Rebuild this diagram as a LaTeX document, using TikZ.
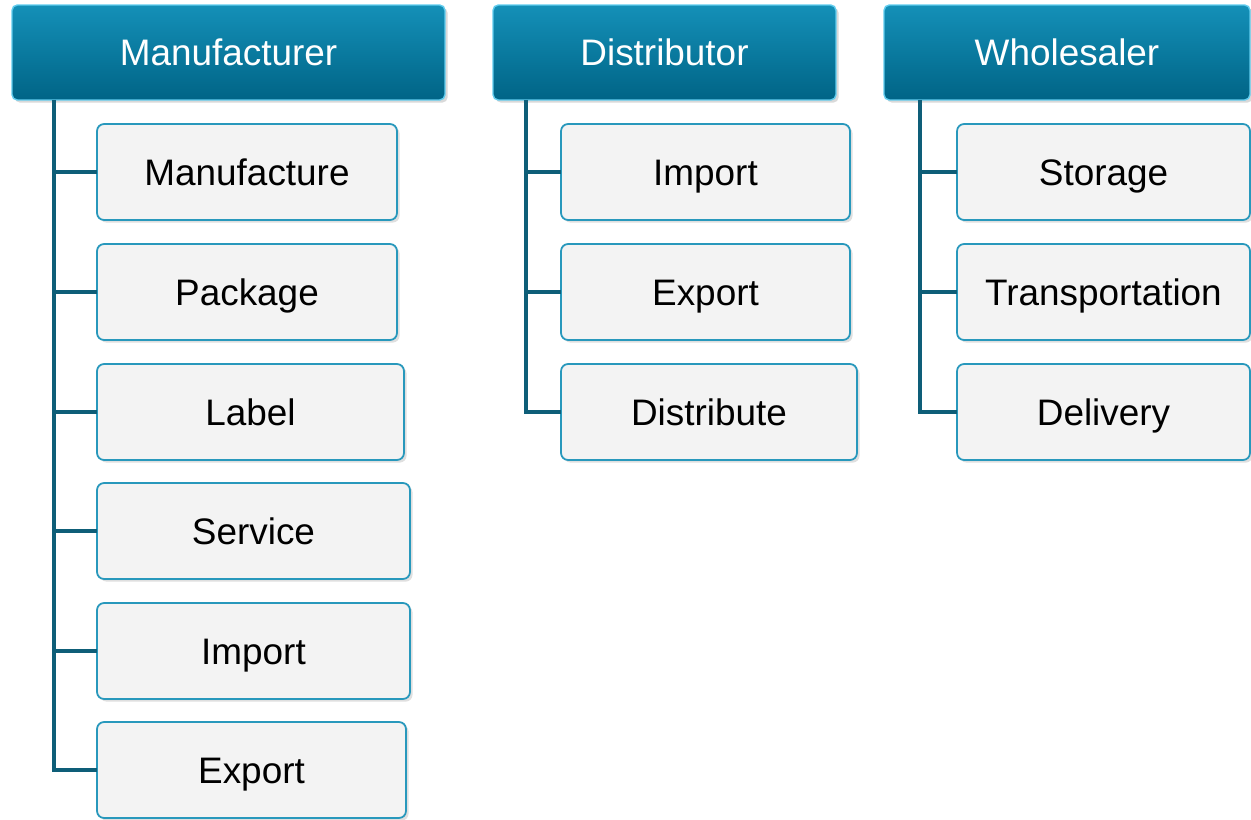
\documentclass[tikz,border=0pt]{standalone}
\usepackage{fontspec}
\setmainfont{Liberation Sans}
\usetikzlibrary{shadows}
\definecolor{headtop}{RGB}{20,144,184}
\definecolor{headbot}{RGB}{0,100,134}
\definecolor{headrim}{RGB}{96,204,238}
\definecolor{itemrim}{RGB}{40,152,188}
\definecolor{itemfill}{RGB}{243,243,243}
\definecolor{linkcol}{RGB}{14,94,120}

\begin{document}
\begin{tikzpicture}[x=0.02cm,y=-0.02cm,
  head/.style={rectangle,rounded corners=3pt,top color=headtop,bottom color=headbot,
    draw=headrim,line width=0.8pt,text=white,inner sep=0pt,outer sep=0pt,
    minimum height=1.9cm,font=\fontsize{21}{25}\selectfont,
    text height=15pt,text depth=0pt,
    drop shadow={opacity=0.3,shadow xshift=1.5pt,shadow yshift=-1.5pt}},
  item/.style={rectangle,rounded corners=4pt,fill=itemfill,draw=itemrim,line width=1pt,
    inner sep=0pt,outer sep=0pt,minimum height=1.92cm,font=\fontsize{21}{25}\selectfont,
    text height=15pt,text depth=0pt,
    drop shadow={opacity=0.25,shadow xshift=1.5pt,shadow yshift=-1.5pt}},
  link/.style={draw=linkcol,line width=2.8pt}]
  \useasboundingbox (0,0) rectangle (1251,819);

  % Manufacturer and its tasks.
  \node[head,minimum width=8.66cm] (man) at (228.5,52.5) {Manufacturer};
  \node[item,minimum width=6cm]    (man1) at (247,172) {Manufacture};
  \node[item,minimum width=6cm]    (man2) at (247,292) {Package};
  \node[item,minimum width=6.14cm] (man3) at (250.5,412) {Label};
  \node[item,minimum width=6.26cm] (man4) at (253.5,531) {Service};
  \node[item,minimum width=6.26cm] (man5) at (253.5,651) {Import};
  \node[item,minimum width=6.18cm] (man6) at (251.5,770) {Export};

  % Distributor and its tasks.
  \node[head,minimum width=6.86cm] (dis) at (664.5,52.5) {Distributor};
  \node[item,minimum width=5.78cm] (dis1) at (705.5,172) {Import};
  \node[item,minimum width=5.78cm] (dis2) at (705.5,292) {Export};
  \node[item,minimum width=5.92cm] (dis3) at (709,412) {Distribute};

  % Wholesaler and its tasks.
  \node[head,minimum width=7.32cm] (who) at (1067,52.5) {Wholesaler};
  \node[item,minimum width=5.86cm] (who1) at (1103.5,172) {Storage};
  \node[item,minimum width=5.86cm] (who2) at (1103.5,292) {Transportation};
  \node[item,minimum width=5.86cm] (who3) at (1103.5,412) {Delivery};

  % Trunks hanging from the headers.
  \coordinate (mantrunk) at ([xshift=0.84cm]man.south west);
  \coordinate (distrunk) at ([xshift=0.66cm]dis.south west);
  \coordinate (whotrunk) at ([xshift=0.72cm]who.south west);

  \draw[link] (mantrunk) |- (man6.west);
  \foreach \k in {1,...,5}
    \draw[link] (mantrunk |- man\k.west) -- (man\k.west);

  \draw[link] (distrunk) |- (dis3.west);
  \foreach \k in {1,2}
    \draw[link] (distrunk |- dis\k.west) -- (dis\k.west);

  \draw[link] (whotrunk) |- (who3.west);
  \foreach \k in {1,2}
    \draw[link] (whotrunk |- who\k.west) -- (who\k.west);
\end{tikzpicture}
\end{document}
